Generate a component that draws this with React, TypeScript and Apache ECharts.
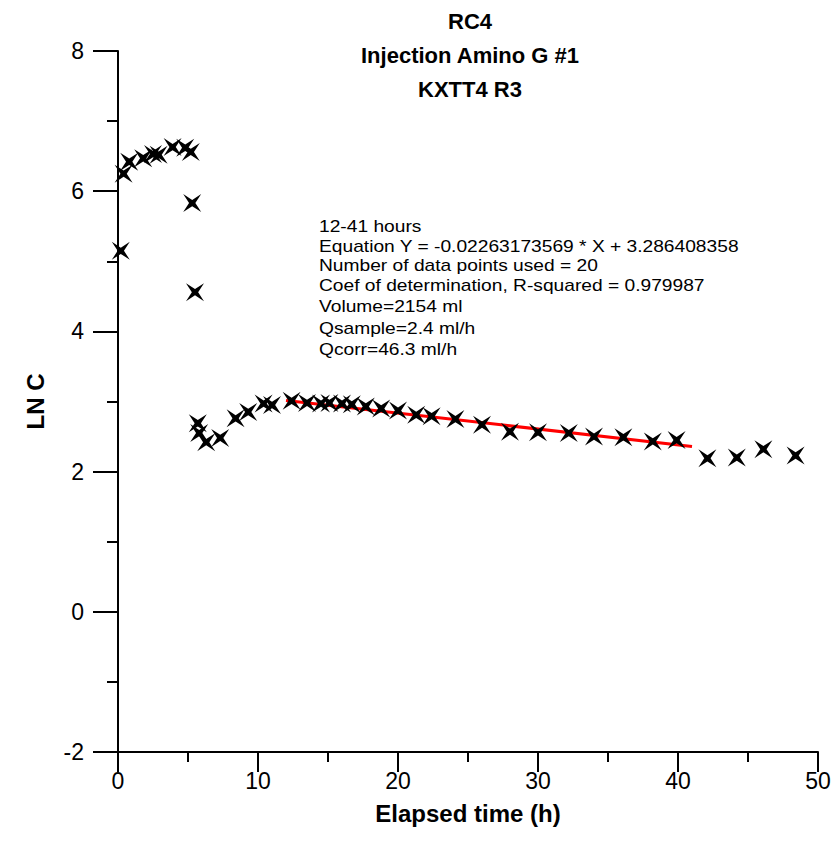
import React, { useEffect, useRef } from "react";
import * as echarts from "echarts";

// Elapsed time (h) and LN C for each sample
const elapsedHours = [
  0.2, 0.4, 0.8, 1.8, 2.5, 2.9, 3.9, 4.8, 5.2, 5.3, 5.5,
  5.7, 5.8, 6.3, 7.3, 8.4, 9.3, 10.4, 11.0,
  12.4, 13.5, 14.5, 15.1, 16.0, 16.7, 17.7, 18.8, 20.0, 21.3, 22.4,
  24.1, 26.0, 28.0, 30.0, 32.2, 34.0, 36.1, 38.2, 39.9,
  42.1, 44.2, 46.1, 48.4,
];
const lnC = [
  5.15, 6.25, 6.42, 6.47, 6.53, 6.52, 6.63, 6.62, 6.56, 5.83, 4.56,
  2.69, 2.55, 2.42, 2.48, 2.76, 2.85, 2.97, 2.95,
  3.01, 2.98, 2.97, 2.98, 2.97, 2.96, 2.93, 2.9, 2.87, 2.81, 2.79,
  2.75, 2.67, 2.57, 2.56, 2.55, 2.5, 2.49, 2.43, 2.45,
  2.19, 2.2, 2.32, 2.23,
];

// Linear regression over the 12-41 h window
const fitSlope = -0.02263173569;
const fitIntercept = 3.286408358;
const fitRange = [12, 41];

const titleLines = ["RC4", "Injection Amino G #1", "KXTT4 R3"];
const noteLines = [
  "12-41 hours",
  "Equation Y = -0.02263173569 * X + 3.286408358",
  "Number of data points used = 20",
  "Coef of determination, R-squared = 0.979987",
  "Volume=2154 ml",
  "Qsample=2.4 ml/h",
  "Qcorr=46.3 ml/h",
];
const noteRowY = [227, 247, 266, 286, 307, 329, 350];

const FONT = "'Liberation Sans', Arial, sans-serif";
const CROSS =
  "path://M0 0 L10 6.5 L20 0 L13.5 10 L20 20 L10 13.5 L0 20 L6.5 10 Z";

export default function App() {
  const ref = useRef<HTMLDivElement>(null);

  useEffect(() => {
    if (!ref.current) return;
    const chart = echarts.init(ref.current, null, { renderer: "svg" });

    const points = elapsedHours.map((t, i) => [t, lnC[i]]);
    const fitLine = fitRange.map((t) => [t, fitIntercept + fitSlope * t]);

    const axisCommon = {
      type: "value" as const,
      splitLine: { show: false },
      minorSplitLine: { show: false },
      axisLine: { show: true, lineStyle: { color: "#000", width: 2 } },
      axisLabel: { color: "#000", fontSize: 23, fontFamily: FONT },
      nameTextStyle: {
        color: "#000",
        fontSize: 24,
        fontWeight: "bold" as const,
        fontFamily: FONT,
      },
    };

    chart.setOption({
      animation: false,
      backgroundColor: "#fff",
      title: {
        text: titleLines.join("\n"),
        left: 465,
        top: -1,
        textAlign: "center",
        textStyle: {
          color: "#000",
          fontSize: 22,
          fontWeight: "bold",
          fontFamily: FONT,
          lineHeight: 34,
        },
      },
      grid: { left: 118, right: 17, top: 51, bottom: 104, containLabel: false },
      xAxis: {
        ...axisCommon,
        min: 0,
        max: 50,
        interval: 10,
        name: "Elapsed time (h)",
        nameLocation: "middle",
        nameGap: 49,
        axisLine: { ...axisCommon.axisLine, onZero: false },
        axisTick: { show: true, inside: false, length: 20, lineStyle: { color: "#000", width: 2 } },
        minorTick: { show: true, splitNumber: 2, length: 10, lineStyle: { color: "#000", width: 2 } },
        axisLabel: { ...axisCommon.axisLabel, margin: 17 },
      },
      yAxis: {
        ...axisCommon,
        min: -2,
        max: 8,
        interval: 2,
        name: "LN C",
        nameLocation: "middle",
        nameGap: 71,
        axisLine: { ...axisCommon.axisLine, onZero: false },
        axisTick: { show: true, inside: false, length: 25, lineStyle: { color: "#000", width: 2 } },
        minorTick: { show: true, splitNumber: 2, length: 11, lineStyle: { color: "#000", width: 2 } },
        axisLabel: { ...axisCommon.axisLabel, margin: 34 },
      },
      series: [
        {
          type: "line",
          data: fitLine,
          showSymbol: false,
          symbol: "none",
          lineStyle: { color: "#ff0000", width: 3 },
          z: 3,
        },
        {
          type: "scatter",
          data: points,
          symbol: CROSS,
          symbolSize: 18,
          itemStyle: { color: "#000", opacity: 1 },
          z: 4,
        },
      ],
      graphic: noteLines.map((line, i) => ({
        type: "text",
        x: 319,
        y: noteRowY[i],
        scaleX: 1.2,
        style: {
          text: line,
          fill: "#000",
          fontSize: 16,
          fontFamily: FONT,
          textVerticalAlign: "middle",
          verticalAlign: "middle",
        },
      })),
    });

    return () => chart.dispose();
  }, []);

  return (
    <div
      ref={ref}
      style={{ position: "absolute", left: 0, top: 0, width: 835, height: 856 }}
    />
  );
}
